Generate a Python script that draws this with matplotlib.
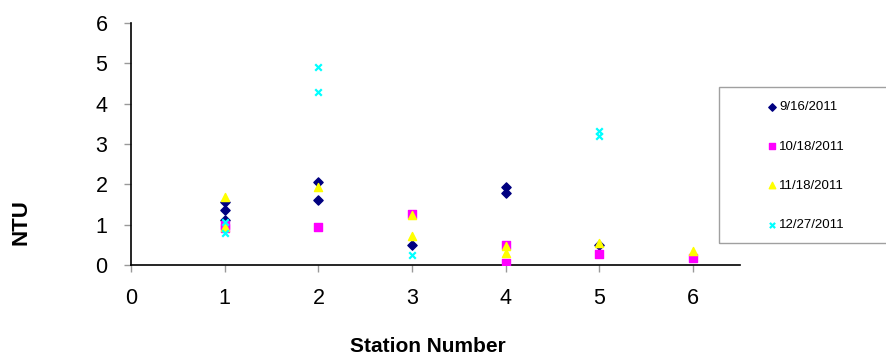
import matplotlib.pyplot as plt
from matplotlib.patches import Rectangle

plt.rcParams['font.family'] = ['Liberation Sans', 'DejaVu Sans']

# turbidity readings per sampling date (station, NTU)
dates = ['9/16/2011', '10/18/2011', '11/18/2011', '12/27/2011']

sep_station = [1, 1, 1, 2, 2, 3, 4, 4, 5]
sep_ntu = [1.55, 1.36, 1.12, 2.05, 1.62, 0.50, 1.94, 1.78, 0.50]

oct_station = [1, 1, 2, 3, 4, 4, 5, 6]
oct_ntu = [0.98, 0.92, 0.95, 1.27, 0.49, 0.05, 0.27, 0.17]

nov_station = [1, 1, 2, 3, 3, 4, 4, 5, 6]
nov_ntu = [1.68, 0.93, 1.93, 1.24, 0.72, 0.47, 0.29, 0.54, 0.34]

dec_station = [1, 1, 2, 2, 3, 5, 5]
dec_ntu = [1.06, 0.79, 4.90, 4.30, 0.25, 3.32, 3.20]

x_ticks = [0, 1, 2, 3, 4, 5, 6]
y_ticks = [0, 1, 2, 3, 4, 5, 6]

fig = plt.figure(figsize=(8.86, 3.55), dpi=100)
ax = fig.add_axes([131 / 886, 1 - 265 / 355, 609 / 886, 242 / 355])

ax.scatter(sep_station, sep_ntu, marker='D', s=22, color='#000080', label=dates[0], zorder=3)
ax.scatter(oct_station, oct_ntu, marker='s', s=28, color='#FF00FF', label=dates[1], zorder=3)
ax.scatter(nov_station, nov_ntu, marker='^', s=34, color='#FFFF00', label=dates[2], zorder=3)
ax.scatter(dec_station, dec_ntu, marker='x', s=22, color='#00FFFF', linewidths=1.6,
           label=dates[3], zorder=3)

ax.set_xlim(0, 6.5)
ax.set_ylim(0, 6)
ax.set_xticks(x_ticks)
ax.set_yticks(y_ticks)
ax.tick_params(axis='both', labelsize=15.5, length=5, color='#999999', width=1)
ax.tick_params(axis='x', pad=11.5)
ax.tick_params(axis='y', pad=12)
for s in ['top', 'right']:
    ax.spines[s].set_visible(False)
for s in ['left', 'bottom']:
    ax.spines[s].set_linewidth(1.2)
    ax.spines[s].set_color('black')

fig.text(21 / 886, 1 - 222 / 355, 'NTU', rotation=90, fontsize=16, fontweight='bold',
         ha='center', va='center')
fig.text(428 / 886, 1 - 346 / 355, 'Station Number', fontsize=15, fontweight='bold',
         ha='center', va='center')

# legend box (runs off the right edge)
fig.patches.append(Rectangle((719 / 886, 1 - 243 / 355), 200 / 886, 156 / 355,
                             transform=fig.transFigure, fill=False,
                             edgecolor='#A0A0A0', linewidth=1))
fig.legend(loc='upper left', bbox_to_anchor=(767 / 886, 1 - 101 / 355), frameon=False,
           fontsize=9.5, handlelength=0.8, handletextpad=0.1, labelspacing=2.05,
           borderpad=0, borderaxespad=0, scatterpoints=1, markerscale=0.8)

fig.savefig('out.png', dpi=100)
